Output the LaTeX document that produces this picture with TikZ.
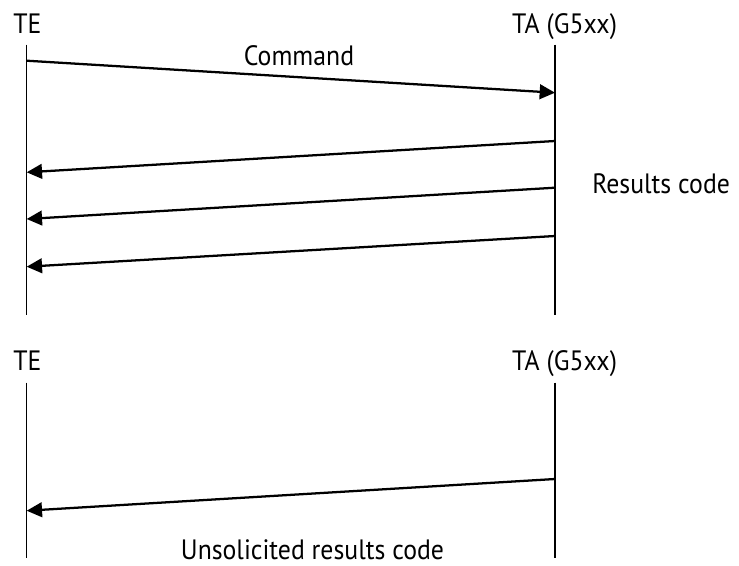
\documentclass[tikz,border=0pt]{standalone}
\usepackage{fontspec}
\setmainfont{PT Sans}[FakeStretch=0.92]
\usetikzlibrary{arrows.meta}

\tikzset{
    lbl/.style={anchor=base,inner sep=0.75pt,font=\fontsize{21}{25}\selectfont},
    life/.style={line width=1pt},
    msg/.style={line width=1.7pt,-{Triangle[length=11.5pt,width=11pt]}}
}

\begin{document}
\begin{tikzpicture}[x=0.75pt,y=0.75pt,yscale=-1,xscale=1]
    \useasboundingbox (0,0) rectangle (739,565);

    % Coordinates: lifelines, upper part
    \coordinate (teTopA) at (26.7,44.5);
    \coordinate (teTopB) at (26.7,315);
    \coordinate (taTopA) at (555,44.5);
    \coordinate (taTopB) at (555,315);
    % Coordinates: lifelines, lower part
    \coordinate (teBotA) at (26.7,382.7);
    \coordinate (teBotB) at (26.7,558);
    \coordinate (taBotA) at (555,382.7);
    \coordinate (taBotB) at (555,558);
    % Coordinates: message ends
    \coordinate (cmdS) at (26.7,60.7);
    \coordinate (cmdE) at (555,92.7);
    \coordinate (resS1) at (555,141);
    \coordinate (resE1) at (26.7,172.3);
    \coordinate (resS2) at (555,187.7);
    \coordinate (resE2) at (26.7,219);
    \coordinate (resS3) at (555,236);
    \coordinate (resE3) at (26.7,266.7);
    \coordinate (unsS) at (555,479);
    \coordinate (unsE) at (26.7,510.7);

    %Straight Lines: lifelines
    \draw [life] (teTopA) -- (teTopB);
    \draw [life] (taTopA) -- (taTopB);
    \draw [life] (teBotA) -- (teBotB);
    \draw [life] (taBotA) -- (taBotB);

    %Straight Lines: messages
    \draw [msg] (cmdS) -- (cmdE);
    \draw [msg] (resS1) -- (resE1);
    \draw [msg] (resS2) -- (resE2);
    \draw [msg] (resS3) -- (resE3);
    \draw [msg] (unsS) -- (unsE);

    % Text Node
    \node [lbl] (teTop) at (27.5,33) {TE};
    % Text Node
    \node [lbl] (taTop) at (564.5,33) {TA (G5xx)};
    % Text Node
    \node [lbl] (cmdLbl) at (299,65) {Command};
    % Text Node
    \node [lbl,anchor=base west] (resLbl) at (591,193) {Results code};
    % Text Node
    \node [lbl] (teBot) at (27.5,370) {TE};
    % Text Node
    \node [lbl] (taBot) at (564.5,370) {TA (G5xx)};
    % Text Node
    \node [lbl] (unsLbl) at (312.5,559) {Unsolicited results code};

\end{tikzpicture}
\end{document}
